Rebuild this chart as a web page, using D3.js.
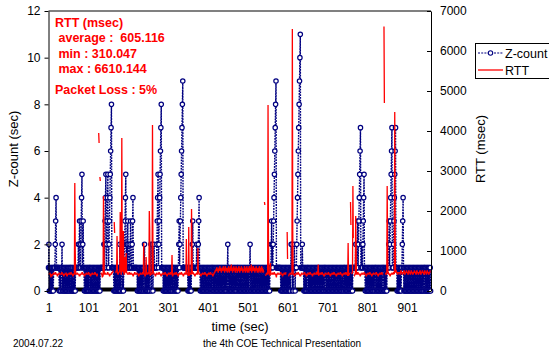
<!DOCTYPE html>
<html>
<head>
<meta charset="utf-8">
<script src="https://cdn.jsdelivr.net/npm/d3@7/dist/d3.min.js"></script>
<style>
  body { margin: 0; background: #fff; }
  svg text { font-family: "Liberation Sans", Arial, sans-serif; }
</style>
</head>
<body>
<svg id="chart" width="549" height="352"></svg>
<script>
//Data : one character per second (t = 1 .. 960), hex digit = Z-count
var zcountRows = [
  "1201010101 0101111234 1111111010 1011201010",
  "1010101010 1010110101 0100101011 1111121231",
  "1234512311 0101010101 0101101010 1010101010",
  "1010101010 1111111112 1234512345 1123456781",
  "1111010101 0101010102 0101120101 1234512123",
  "1121123111 2341111111 1110101010 1010101010",
  "1201010101 0101011201 1201121111 1123451234",
  "5678111101 0101010101 0101010101 0101101010",
  "1010101231 2345678911 1111111111 0101010101",
  "1231111111 1121112341 1010101010 1010101010",
  "1010101010 1101010101 0101010101 0101010101",
  "0101010101 2010101010 1010101010 1010110101",
  "0101010101 0101010101 0101012010 1010101010",
  "1010101010 1010101010 1010101010 1010101112",
  "3121234567 8911111111 1110101010 1010101010",
  "1010101012 1201011210 1112345678 9ab1111211",
  "1010101010 1101010101 0101010101 0101010101",
  "0101010101 0101101010 1010101010 1010101010",
  "1010101010 1010101010 1011010101 0101010101",
  "1010111111 1211123123 4567112112 3451101010",
  "1010101010 1010101010 1101010101 0101010101",
  "1010101010 1111231234 5671112345 6711101010",
  "1010101123 4101010101 0101010101 0101010101",
  "0101010101 0101010101 0101101010 1010101010"
];

//RTT base level : digit d -> 300 + 40*d msec
var rttRows = [
  "3334331322 3334333443 3322333433 3334433322",
  "3333432233 3343334433 3223334333 3343333222",
  "3333443333 2233343333 4433322333 4333334433",
  "3223334333 3443312233 3343333344 3332233334",
  "4455443344 5544334455 4433445544 3344554433",
  "3344333433 3322334433 3343332233 3433334433",
  "3322334333 4433223343 3334433322 3343333443",
  "3322333433 3344333223 3343334433 3223334333",
  "4433322334 3334433322 3343334433 3212334333",
  "3344333223 3343334433 3322333433 3344333223",
  "3343334433 3322334455 6577564675 8657465768",
  "5746857664 7586475869 5746586754 6857465786",
  "4675867546 5786475684 6574867569 4657865746",
  "5867465748 6574685746 4433223343 3344332233",
  "3343334433 3213334333 3344333223 3343334432",
  "3322333433 3344333223 3343334433 3222334333",
  "3344333223 3343334433 3322333433 3344335223",
  "3343334433 3223334333 3344333223 3343334433",
  "3322333433 3344333223 3343334433 3222334333",
  "3344333223 3343334433 3322333433 3344333223",
  "3343334433 3223334333 3344333223 3343334433",
  "3322333433 3344333223 3343334433 4455443344",
  "4433554433 4455334455 4433554433 5544334455",
  "4433554433 4455334455 4433554433 5544334455"
];

//RTT peaks and lost packets [time, msec]
var rttSpikes = [
  [67, 2700], [68, 1100],
  [126, null], [127, 3950], [128, 3700], [129, null], [130, 2850], [131, 2750], [132, null],
  [139, 2375], [140, 1400],
  [165, null], [166, 1725], [167, 1450], [168, null],
  [173, 1375], [181, 1975], [182, 1200], [185, 3825], [186, 1000], [189, 1500],
  [193, 850], [196, 950],
  [240, 1200], [246, 850], [254, 2000], [255, 1550], [262, 4150], [263, 1200],
  [311, 900],
  [347, 1300], [353, 1600], [360, 2050], [361, 1100], [376, 1075],
  [542, null], [543, 2225], [544, 2150], [545, null],
  [552, 4650], [553, 1300], [558, 700],
  [599, null], [600, 1475], [601, 800], [602, null],
  [613, 6550], [614, 1500],
  [678, 660],
  [753, 1200],
  [758, null], [759, 2225], [760, 1650], [761, null],
  [765, 2625], [766, 1325], [767, null],
  [772, 1875], [773, 1100],
  [842, null], [843, 6610], [844, 4700], [845, null],
  [851, 2625], [852, 1200],
  [870, 4475], [871, 1500]
];

var timeTicks = [1, 101, 201, 301, 401, 501, 601, 701, 801, 901];
var zTicks = [0, 2, 4, 6, 8, 10, 12];
var rttTicks = [0, 1000, 2000, 3000, 4000, 5000, 6000, 7000];
var notes = ["RTT (msec)", " average :  605.116", " min : 310.047", " max : 6610.144", "Packet Loss : 5%"];

//Build series
var zcount = zcountRows.join("").replace(/ /g, "").split("").map(function(c){ return parseInt(c, 16); });
var rtt = rttRows.join("").replace(/ /g, "").split("").map(function(c){ return c == "-" ? null : 300 + 40 * (+c); });
rttSpikes.forEach(function(s){ rtt[s[0] - 1] = s[1]; });
var data = zcount.map(function(z, i){ return {t: i + 1, z: z, r: rtt[i] === undefined ? null : rtt[i]}; });

//Canvas
var svg = d3.select("#chart");
var pLeft = 48.5, pRight = 431, pTop = 11, pBottom = 291;

var x = d3.scaleLinear().domain([1, 961]).range([pLeft, pRight]);
var yz = d3.scaleLinear().domain([0, 12]).range([pBottom, pTop]);
var yr = d3.scaleLinear().domain([0, 7000]).range([pBottom, pTop]);

//Plot frame
svg.append("line").attr("x1", pLeft).attr("x2", pRight).attr("y1", pTop).attr("y2", pTop)
   .attr("stroke", "#808080").attr("stroke-width", 2);
svg.append("line").attr("x1", pLeft).attr("x2", pRight).attr("y1", pBottom - 1.5).attr("y2", pBottom - 1.5)
   .attr("stroke", "#000").attr("stroke-width", 4);

//Z-count series
var zline = d3.line().x(function(d){ return x(d.t); }).y(function(d){ return yz(d.z); });
svg.append("path").datum(data).attr("d", zline)
   .attr("fill", "none").attr("stroke", "#000080").attr("stroke-width", 1.4)
   .attr("stroke-dasharray", "1.8,1");
svg.append("g").selectAll("circle").data(data).enter().append("circle")
   .attr("cx", function(d){ return x(d.t); }).attr("cy", function(d){ return yz(d.z); })
   .attr("r", 2.2).attr("fill", "#fff").attr("stroke", "#000080").attr("stroke-width", 1.2);

//RTT series
var rline = d3.line().defined(function(d){ return d.r != null; })
   .x(function(d){ return x(d.t); }).y(function(d){ return yr(d.r); });
svg.append("path").datum(data).attr("d", rline)
   .attr("fill", "none").attr("stroke", "#ff0000").attr("stroke-width", 1.3);

//Axes
var axisL = d3.axisLeft(yz).tickValues(zTicks).tickSize(4).tickSizeOuter(0).tickPadding(4);
var axisR = d3.axisRight(yr).tickValues(rttTicks).tickFormat(d3.format("d"))
   .tickSizeInner(-4).tickSizeOuter(0).tickPadding(9);
var axisB = d3.axisBottom(x).tickValues(timeTicks).tickSize(0).tickPadding(12);

var gL = svg.append("g").attr("transform", "translate(" + pLeft + ",0)").call(axisL);
var gR = svg.append("g").attr("transform", "translate(" + pRight + ",0)").call(axisR);
var gB = svg.append("g").attr("transform", "translate(0," + pBottom + ")").call(axisB);
gB.select(".domain").remove();
[gL, gR, gB].forEach(function(g){
  g.selectAll("text").style("font-size", "12px").attr("fill", "#000");
  g.selectAll("line").attr("stroke", "#000");
  g.select(".domain").attr("stroke", "#000");
});

//Axis titles
svg.append("text").attr("transform", "translate(17.5,149) rotate(-90)").attr("text-anchor", "middle")
   .style("font-size", "13px").text("Z-count (sec)");
svg.append("text").attr("transform", "translate(485,149) rotate(-90)").attr("text-anchor", "middle")
   .style("font-size", "13px").text("RTT (msec)");
svg.append("text").attr("x", 240).attr("y", 331).attr("text-anchor", "middle")
   .style("font-size", "13px").text("time (sec)");

//Notes
var noteY = [27, 42, 58, 73, 93.5];
svg.append("g").selectAll("text").data(notes).enter().append("text")
   .attr("x", 55).attr("y", function(d, i){ return noteY[i]; })
   .attr("fill", "#ff0000").style("font-size", "12.5px").style("font-weight", "bold")
   .style("white-space", "pre").attr("xml:space", "preserve").text(function(d){ return d; });

//Legend
var lg = svg.append("g");
lg.append("rect").attr("x", 475.5).attr("y", 43.5).attr("width", 90).attr("height", 35)
  .attr("fill", "#fff").attr("stroke", "#000");
lg.append("line").attr("x1", 478).attr("x2", 503).attr("y1", 53).attr("y2", 53)
  .attr("stroke", "#000080").attr("stroke-width", 1.2).attr("stroke-dasharray", "2,1.2");
lg.append("circle").attr("cx", 490.5).attr("cy", 53).attr("r", 2.2)
  .attr("fill", "#fff").attr("stroke", "#000080").attr("stroke-width", 1.1);
lg.append("text").attr("x", 505).attr("y", 57.5).style("font-size", "12.5px").text("Z-count");
lg.append("line").attr("x1", 478).attr("x2", 503).attr("y1", 70).attr("y2", 70)
  .attr("stroke", "#ff0000").attr("stroke-width", 1.3);
lg.append("text").attr("x", 505).attr("y", 75).style("font-size", "12.5px").text("RTT");

//Footer
svg.append("text").attr("x", 13).attr("y", 347).style("font-size", "10px").text("2004.07.22");
svg.append("text").attr("x", 282).attr("y", 346.5).attr("text-anchor", "middle")
   .style("font-size", "10px").text("the 4th COE Technical Presentation");
</script>
</body>
</html>
